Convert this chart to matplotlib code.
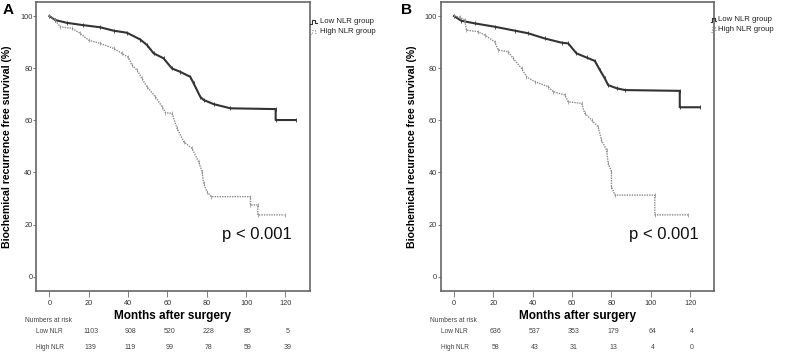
import matplotlib
matplotlib.use("Agg")
import matplotlib.pyplot as plt
from matplotlib.lines import Line2D
import matplotlib.transforms as mtransforms

plt.rcParams['font.family'] = ['Liberation Sans', 'DejaVu Sans']

W, H = 785, 353

# ---- Data ----
a_low_x = [0, 2.9, 8.9, 17.3, 25.8, 32.6, 39.4, 46.2, 49.6, 53, 58, 62.3, 66.5, 71.6, 73.3, 76.7, 78.4, 83.5, 92, 115, 115, 125.1]
a_low_y = [100, 98.5, 97.4, 96.5, 95.7, 94.4, 93.6, 91, 88.9, 85.7, 83.8, 79.9, 78.6, 76.7, 74.2, 69, 67.8, 66.2, 64.6, 64.3, 60.1, 60.1]
a_high_x = [0, 2.9, 5.4, 11.4, 15.6, 19.9, 25.8, 32.6, 36.8, 40.2, 41.9, 44.5, 47, 49.6, 53.9, 57.3, 59, 62.3, 64.9, 68.3, 72.5, 75.8, 77.6, 78.4, 80.1, 82.2, 102.2, 102.2, 105.9, 105.9, 119.5]
a_high_y = [100, 98.5, 95.9, 95.3, 93.4, 90.8, 89.5, 87.6, 85.7, 84.1, 81.2, 79.3, 76.1, 72.9, 69, 65.2, 62.9, 62.7, 56.9, 51.8, 49.2, 44.1, 40.3, 35.8, 32.6, 30.7, 30.7, 27.5, 27.5, 23.7, 23.7]

b_low_x = [0, 3.7, 10.5, 20.7, 30.9, 37.6, 46.1, 54.6, 58, 62.2, 67.3, 71.5, 74.1, 76.6, 78.3, 82.6, 86.8, 114.7, 114.7, 124.9]
b_low_y = [100, 98.2, 97.2, 95.9, 94.4, 93.4, 91.4, 89.8, 89.5, 85.7, 84.1, 82.8, 79.3, 76.1, 73.5, 72.3, 71.6, 71.3, 65, 65]
b_high_x = [0, 3.0, 5.4, 6.3, 12.2, 15.6, 20.7, 22.4, 27.5, 30, 34.3, 36.8, 41, 47.8, 50.3, 56.3, 58, 64.8, 66.4, 69.9, 73.2, 74.9, 77.5, 78.3, 80, 80, 81.7, 102, 102, 119]
b_high_y = [100, 99.6, 98.5, 94.6, 94, 92.7, 90.1, 87, 86.3, 83.8, 79.9, 76.7, 74.8, 72.9, 71, 69.7, 67.1, 66.5, 62.7, 60.1, 57.5, 52.4, 48.6, 43.5, 40.3, 34.5, 31.3, 31.3, 23.7, 23.7]

risk_times = [20, 40, 60, 80, 100, 120]
a_risk_low = [1103, 908, 520, 228, 85, 5]
a_risk_high = [139, 119, 99, 78, 59, 39]
b_risk_low = [636, 537, 353, 179, 64, 4]
b_risk_high = [58, 43, 31, 13, 4, 0]

xticks = [0, 20, 40, 60, 80, 100, 120]
yticks = [0, 20, 40, 60, 80, 100]

LOW_C = '#333333'
HIGH_C = '#8a8a8a'
TXT_C = '#444444'

fig = plt.figure(figsize=(W / 100, H / 100), dpi=100)


def fx(px):
    return px / W


def fy(py):
    return 1 - py / H


def make_panel(left_px, letter, letter_px, low_x, low_y, high_x, high_y,
               risk_low, risk_high, sym_px, sym_w, text_px, leg_y, p_x):
    ax = fig.add_axes([fx(left_px), fy(290.7), 273.5 / W, (290.7 - 2) / H])
    ax.plot(low_x, low_y, color=LOW_C, lw=1.5,
            marker='|', markersize=2.2, markeredgewidth=0.6)
    ax.plot(high_x, high_y, color=HIGH_C, lw=1.0,
            linestyle=(0, (1, 0.8)), marker='|', markersize=2.2, markeredgewidth=0.5)
    ax.set_xlim(-6.8, 132.2)
    ax.set_ylim(-5.4, 105.4)
    ax.set_xticks(xticks)
    ax.set_yticks(yticks)
    ax.tick_params(axis='both', labelsize=5.3, colors='#666666', labelcolor='#333333',
                   width=0.6, direction='out')
    ax.tick_params(axis='y', length=2, pad=0.5)
    ax.tick_params(axis='x', length=4, pad=3)
    for s in ax.spines.values():
        s.set_color('#666666')
        s.set_linewidth(1.2)
    ax.set_xlabel('Months after surgery', fontsize=8.5, fontweight='bold', labelpad=2)
    ax.set_ylabel('Biochemical recurrence free survival (%)', fontsize=7.6,
                  fontweight='bold')
    ax.yaxis.set_label_coords(-0.087, 0.5)
    ax.text(p_x, 0.195, 'p < 0.001', transform=ax.transAxes, fontsize=12,
            ha='right', va='center', color='#111111')
    # panel letter
    fig.text(fx(letter_px), fy(10), letter, fontsize=11, fontweight='bold',
             ha='left', va='center')
    # legend
    x0 = sym_px
    for yy, col, ls, lab in [(leg_y, LOW_C, '-', 'Low NLR group'),
                             (leg_y + 9.8, HIGH_C, ':', 'High NLR group')]:
        s = sym_w / 7.0
        xs = [x0, x0 + 2 * s, x0 + 2 * s, x0 + 5 * s, x0 + 5 * s, x0 + 7 * s]
        ys = [yy + 2.5, yy + 2.5, yy - 2, yy - 2, yy + 1, yy + 1]
        fig.add_artist(Line2D([fx(v) for v in xs], [fy(v) for v in ys],
                              color=col, lw=0.8, linestyle=ls))
        fig.text(fx(text_px), fy(yy), lab, fontsize=5.6, ha='left', va='center',
                 color='#222222')
    # numbers at risk
    fig.text(fx(left_px - 11), fy(320), 'Numbers at risk', fontsize=4.8,
             ha='left', va='center', color=TXT_C)
    fig.text(fx(left_px), fy(331.7), 'Low NLR', fontsize=4.7, ha='left', va='center',
             color=TXT_C)
    fig.text(fx(left_px), fy(347.7), 'High NLR', fontsize=4.7, ha='left', va='center',
             color=TXT_C)
    trans = mtransforms.blended_transform_factory(ax.transData, fig.transFigure)
    for t, v in zip(risk_times, risk_low):
        fig.text(t + 1.0, fy(331.7), str(v), transform=trans, fontsize=5,
                 ha='center', va='center', color=TXT_C)
    for t, v in zip(risk_times, risk_high):
        fig.text(t + 1.0, fy(347.7), str(v), transform=trans, fontsize=5,
                 ha='center', va='center', color=TXT_C)
    return ax


make_panel(36, 'A', 3, a_low_x, a_low_y, a_high_x, a_high_y, a_risk_low, a_risk_high,
           310, 7, 320, 21.7, 0.935)
make_panel(440.7, 'B', 401, b_low_x, b_low_y, b_high_x, b_high_y, b_risk_low, b_risk_high,
           711, 5, 718, 19.5, 0.945)

fig.savefig('out.png', dpi=100)
